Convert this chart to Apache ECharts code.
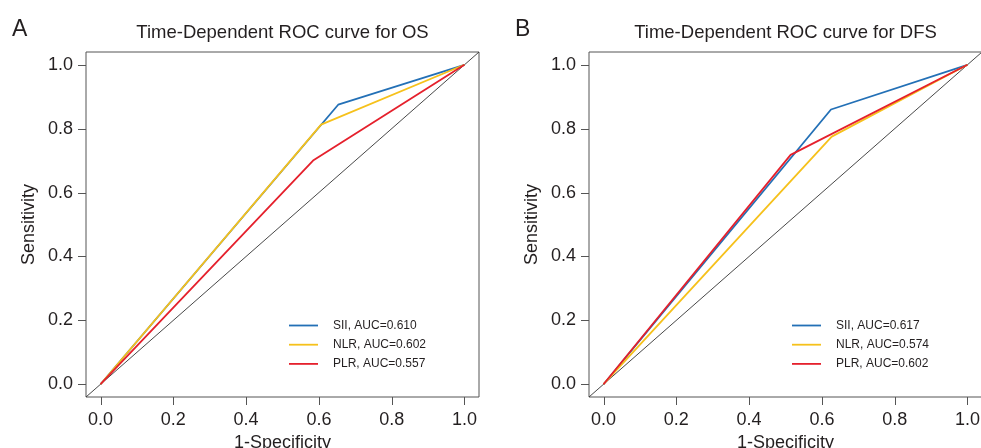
<!DOCTYPE html>
<html>
<head>
<meta charset="utf-8">
<script src="https://cdn.jsdelivr.net/npm/echarts@6/dist/echarts.min.js"></script>
<style>
html,body{margin:0;padding:0;background:#fff;}
#chart{width:981px;height:448px;}
</style>
</head>
<body>
<div id="chart"></div>
<script>
// ---- data ----
const TICKS = [0, 0.2, 0.4, 0.6, 0.8, 1.0];
const AXIS_RANGE = [-0.04, 1.04];
const DIAG = [-0.04, 1.04];

const titlesText = ['Time-Dependent ROC curve for OS', 'Time-Dependent ROC curve for DFS'];
const panelLetters = ['A', 'B'];
const markerNames = ['SII', 'NLR', 'PLR'];

// Panel A (OS): 1-Specificity (x) and Sensitivity (y)
const A_SII_X = [0, 0.653, 1];
const A_SII_Y = [0, 0.875, 1];
const A_NLR_X = [0, 0.606, 1];
const A_NLR_Y = [0, 0.8125, 1];
const A_PLR_X = [0, 0.584, 1];
const A_PLR_Y = [0, 0.700, 1];
const A_AUC = ['0.610', '0.602', '0.557'];

// Panel B (DFS)
const B_SII_X = [0, 0.625, 1];
const B_SII_Y = [0, 0.860, 1];
const B_NLR_X = [0, 0.627, 1];
const B_NLR_Y = [0, 0.775, 1];
const B_PLR_X = [0, 0.514, 1];
const B_PLR_Y = [0, 0.718, 1];
const B_AUC = ['0.617', '0.574', '0.602'];

const COLORS = ['#2370b6', '#f6c11b', '#e5202c'];
const FONT = 'Liberation Sans';
const TXT = '#231f20';
const AXC = '#555';

function pairs(xs, ys) { return xs.map((x, i) => [x, ys[i]]); }

const panels = [
  { xs: [A_SII_X, A_NLR_X, A_PLR_X], ys: [A_SII_Y, A_NLR_Y, A_PLR_Y], auc: A_AUC, left: 86 },
  { xs: [B_SII_X, B_NLR_X, B_PLR_X], ys: [B_SII_Y, B_NLR_Y, B_PLR_Y], auc: B_AUC, left: 589 }
];
const GRID_W = 393, GRID_TOP = 52, GRID_H = 345;
const TICK_PX = 8;

const grid = [], xAxis = [], yAxis = [], series = [], legend = [], title = [];

panels.forEach((p, k) => {
  grid.push({ left: p.left, top: GRID_TOP, width: GRID_W, height: GRID_H, show: true,
    containLabel: false, outerBoundsMode: 'none',
    borderColor: AXC, borderWidth: 1, backgroundColor: 'transparent' });
  const common = {
    gridIndex: k, type: 'value', min: AXIS_RANGE[0], max: AXIS_RANGE[1],
    axisLine: { show: false, onZero: false },
    axisTick: { show: false },
    axisLabel: { customValues: TICKS, formatter: v => v.toFixed(1), fontFamily: FONT, fontSize: 18, color: TXT },
    splitLine: { show: false },
    nameLocation: 'middle',
    nameTextStyle: { fontFamily: FONT, fontSize: 18, color: TXT }
  };
  xAxis.push(Object.assign({}, common, { position: 'bottom', name: '1-Specificity', nameGap: 35,
    axisLabel: Object.assign({}, common.axisLabel, { margin: 14 }) }));
  yAxis.push(Object.assign({}, common, { position: 'left', name: 'Sensitivity', nameGap: 48,
    axisLabel: Object.assign({}, common.axisLabel, { margin: 13 }) }));

  series.push({ type: 'line', name: 'ref' + k, xAxisIndex: k, yAxisIndex: k,
    data: [[DIAG[0], DIAG[0]], [DIAG[1], DIAG[1]]], showSymbol: false, silent: true,
    lineStyle: { color: '#333', width: 0.9 }, z: 1 });
  const names = [];
  markerNames.forEach((m, i) => {
    const nm = m + ', AUC=' + p.auc[i];
    names.push(nm);
    series.push({ type: 'line', name: nm, xAxisIndex: k, yAxisIndex: k,
      data: pairs(p.xs[i], p.ys[i]), showSymbol: false, symbol: 'none',
      color: COLORS[i], lineStyle: { color: COLORS[i], width: 1.8 }, z: 2 + i });
  });
  legend.push({ data: names, orient: 'vertical', left: k === 0 ? 289 : 792, top: 319.5, padding: 0,
    itemWidth: 29, itemHeight: 12, itemGap: 7.2, icon: 'path://M0,0L29,0L29,1.8L0,1.8Z',
    textStyle: { fontFamily: FONT, fontSize: 12, color: TXT, padding: [0, 0, 0, 10] } });
  title.push({ text: titlesText[k], left: p.left + GRID_W / 2, top: 23, textAlign: 'center', padding: 0,
    textStyle: { fontFamily: FONT, fontSize: 18.5, fontWeight: 'normal', color: TXT } });
  title.push({ text: panelLetters[k], left: k === 0 ? 12 : 515, top: 18, padding: 0,
    textStyle: { fontFamily: FONT, fontSize: 23, fontWeight: 'normal', color: TXT } });
});

const chart = echarts.init(document.getElementById('chart'), null, { renderer: 'canvas' });
chart.setOption({ animation: false, backgroundColor: '#fff', title, grid, xAxis, yAxis, series, legend });

// outward R-style tick marks, positioned through each grid's own scales
const tickEls = [];
panels.forEach((p, k) => {
  TICKS.forEach(t => {
    const px = chart.convertToPixel({ gridIndex: k }, [t, AXIS_RANGE[0]]);
    const xx = Math.round(px[0]) + 0.5, yb = Math.round(px[1]);
    tickEls.push({ type: 'line', silent: true, z: 10,
      shape: { x1: xx, y1: yb, x2: xx, y2: yb + TICK_PX },
      style: { stroke: AXC, lineWidth: 1 } });
    const py = chart.convertToPixel({ gridIndex: k }, [AXIS_RANGE[0], t]);
    const yy = Math.round(py[1]) + 0.5, xl = Math.round(py[0]);
    tickEls.push({ type: 'line', silent: true, z: 10,
      shape: { x1: xl, y1: yy, x2: xl - TICK_PX, y2: yy },
      style: { stroke: AXC, lineWidth: 1 } });
  });
});
chart.setOption({ graphic: { elements: tickEls } });
</script>
</body>
</html>
